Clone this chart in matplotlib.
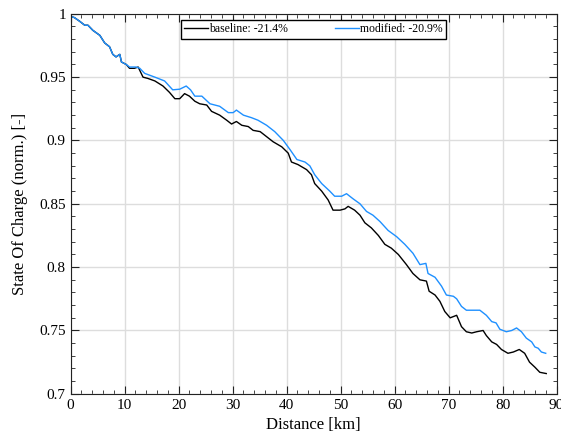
import matplotlib
matplotlib.use('Agg')
import matplotlib.pyplot as plt
from matplotlib.ticker import MultipleLocator, FuncFormatter

# distance [km] and normalised SOC
baseline_km = [0, 0.7, 1.7, 2.6, 3.2, 4.1, 5.4, 6.3, 7.2, 7.8, 8.4, 9.1, 9.4, 10.3,
               10.9, 11.8, 12.5, 13.4, 14.3, 15.6, 17.1, 18.3, 19.3, 20.2, 21.1, 22.0,
               23.0, 23.9, 25.2, 26.1, 27.6, 28.9, 29.8, 30.7, 31.7, 32.9, 33.8, 35.1,
               36.3, 37.5, 39.1, 40.3, 40.9, 42.1, 43.7, 44.6, 45.2, 46.5, 47.7, 48.6,
               49.9, 50.8, 51.4, 52.6, 53.6, 54.5, 55.7, 57.0, 58.2, 59.4, 60.7, 62.2,
               63.4, 64.7, 65.9, 66.4, 67.5, 68.4, 69.3, 70.3, 71.5, 72.4, 73.3, 74.3,
               75.2, 76.4, 77.0, 78.0, 78.9, 79.8, 81.0, 82.0, 83.1, 84.1, 85.0, 86.0,
               86.9, 88.1]
baseline_soc = [0.998, 0.997, 0.994, 0.991, 0.991, 0.987, 0.983, 0.977, 0.974, 0.968,
                0.966, 0.968, 0.962, 0.960, 0.957, 0.957, 0.958, 0.950, 0.949, 0.947,
                0.943, 0.938, 0.933, 0.933, 0.937, 0.935, 0.931, 0.929, 0.928, 0.923,
                0.920, 0.916, 0.913, 0.915, 0.912, 0.911, 0.908, 0.907, 0.903, 0.899,
                0.895, 0.890, 0.883, 0.881, 0.877, 0.873, 0.866, 0.860, 0.853, 0.845,
                0.845, 0.846, 0.848, 0.845, 0.841, 0.835, 0.831, 0.825, 0.818, 0.815,
                0.810, 0.802, 0.795, 0.790, 0.789, 0.781, 0.778, 0.773, 0.765, 0.760,
                0.762, 0.753, 0.749, 0.748, 0.749, 0.750, 0.746, 0.741, 0.739, 0.735,
                0.732, 0.733, 0.735, 0.732, 0.725, 0.721, 0.717, 0.716]

modified_km = [0, 0.7, 1.7, 2.6, 3.2, 4.1, 5.4, 6.3, 7.2, 7.8, 8.4, 9.1, 9.4, 10.3,
               10.9, 12.1, 12.8, 13.7, 15.6, 17.4, 18.9, 20.2, 21.4, 22.2, 23.0, 24.3,
               25.8, 27.6, 29.2, 30.1, 30.7, 32.0, 33.5, 34.7, 36.3, 37.8, 39.4, 40.6,
               41.9, 43.4, 44.3, 45.2, 46.5, 48.0, 48.9, 50.2, 51.1, 52.3, 53.6, 54.8,
               56.0, 57.3, 58.8, 60.4, 61.9, 63.4, 64.7, 65.8, 66.2, 67.5, 68.7, 69.6,
               70.9, 71.5, 72.4, 73.3, 74.6, 75.8, 77.0, 78.0, 78.8, 79.5, 80.7, 81.7,
               82.6, 83.5, 84.4, 85.4, 86.0, 86.6, 87.2, 88.0]
modified_soc = [0.998, 0.997, 0.994, 0.991, 0.991, 0.987, 0.983, 0.977, 0.974, 0.968,
                0.966, 0.968, 0.962, 0.960, 0.958, 0.958, 0.957, 0.953, 0.950, 0.947,
                0.940, 0.9405, 0.943, 0.940, 0.935, 0.935, 0.929, 0.927, 0.922, 0.922,
                0.924, 0.920, 0.918, 0.916, 0.912, 0.907, 0.900, 0.893, 0.885, 0.883,
                0.880, 0.873, 0.866, 0.860, 0.856, 0.856, 0.858, 0.854, 0.850, 0.844,
                0.841, 0.836, 0.829, 0.824, 0.818, 0.811, 0.802, 0.803, 0.795, 0.792,
                0.785, 0.778, 0.777, 0.775, 0.769, 0.766, 0.766, 0.766, 0.762, 0.757,
                0.756, 0.751, 0.749, 0.750, 0.752, 0.749, 0.744, 0.741, 0.737, 0.736,
                0.733, 0.732]

plt.rcParams['font.family'] = ['Liberation Serif', 'DejaVu Serif']

fig = plt.figure(figsize=(5.61, 4.46), dpi=100)
ax = fig.add_axes([0.126, 0.117, 0.866, 0.852])

ax.plot(baseline_km, baseline_soc, color='black', lw=1.0, label='baseline: -21.4%')
ax.plot(modified_km, modified_soc, color='#1e90ff', lw=1.0, label='modified: -20.9%')

ax.set_xlim(0, 90)
ax.set_ylim(0.7, 1.0)
ax.xaxis.set_major_locator(MultipleLocator(10))
ax.xaxis.set_minor_locator(MultipleLocator(2))
ax.yaxis.set_major_locator(MultipleLocator(0.05))
ax.yaxis.set_minor_locator(MultipleLocator(0.01))
ax.yaxis.set_major_formatter(FuncFormatter(lambda v, p: ('%.2f' % v).rstrip('0').rstrip('.')))

ax.tick_params(which='both', direction='in', top=True, right=True, labelsize=11,
               color='#222222')
ax.tick_params(which='major', length=6)
ax.tick_params(which='minor', length=3)
ax.grid(True, which='major', color='#dddddd', lw=1)
for s in ax.spines.values():
    s.set_color('#222222')

ax.set_xlabel('Distance [km]', fontsize=12, labelpad=4)
ax.set_ylabel('State Of Charge (norm.) [-]', fontsize=12, labelpad=8)

leg = ax.legend(loc='upper center', bbox_to_anchor=(0.5, 0.985), ncol=2, fontsize=8.5,
                fancybox=False, frameon=True, edgecolor='black', framealpha=1,
                handlelength=2.0, handletextpad=0.1, columnspacing=4.0,
                borderpad=0.3, borderaxespad=0)
leg.get_frame().set_linewidth(1.0)

fig.savefig('out.png', dpi=100)
